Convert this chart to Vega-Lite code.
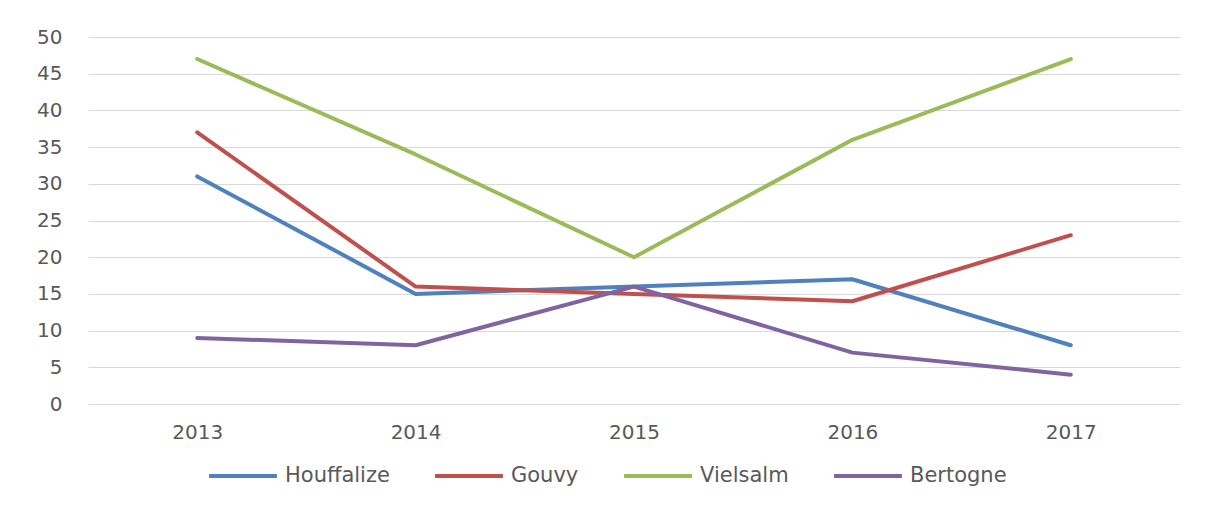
{
  "$schema": "https://vega.github.io/schema/vega-lite/v6.json",
  "width": 1092,
  "height": 367,
  "autosize": {"type": "none"},
  "padding": {"left": 88, "top": 37, "right": 25, "bottom": 103},
  "background": "white",
  "config": {
    "view": {"stroke": null},
    "font": "DejaVu Sans"
  },
  "data": {
    "values": [
      {"annee": "2013", "commune": "Houffalize", "valeur": 31},
      {"annee": "2014", "commune": "Houffalize", "valeur": 15},
      {"annee": "2015", "commune": "Houffalize", "valeur": 16},
      {"annee": "2016", "commune": "Houffalize", "valeur": 17},
      {"annee": "2017", "commune": "Houffalize", "valeur": 8},
      {"annee": "2013", "commune": "Gouvy", "valeur": 37},
      {"annee": "2014", "commune": "Gouvy", "valeur": 16},
      {"annee": "2015", "commune": "Gouvy", "valeur": 15},
      {"annee": "2016", "commune": "Gouvy", "valeur": 14},
      {"annee": "2017", "commune": "Gouvy", "valeur": 23},
      {"annee": "2013", "commune": "Vielsalm", "valeur": 47},
      {"annee": "2014", "commune": "Vielsalm", "valeur": 34},
      {"annee": "2015", "commune": "Vielsalm", "valeur": 20},
      {"annee": "2016", "commune": "Vielsalm", "valeur": 36},
      {"annee": "2017", "commune": "Vielsalm", "valeur": 47},
      {"annee": "2013", "commune": "Bertogne", "valeur": 9},
      {"annee": "2014", "commune": "Bertogne", "valeur": 8},
      {"annee": "2015", "commune": "Bertogne", "valeur": 16},
      {"annee": "2016", "commune": "Bertogne", "valeur": 7},
      {"annee": "2017", "commune": "Bertogne", "valeur": 4}
    ]
  },
  "mark": {"type": "line", "strokeWidth": 4, "strokeCap": "round", "strokeJoin": "round"},
  "encoding": {
    "x": {
      "field": "annee",
      "type": "ordinal",
      "scale": {"type": "point", "padding": 0.5},
      "axis": {
        "title": null,
        "labelAngle": 0,
        "domain": false,
        "ticks": false,
        "grid": false,
        "labelFontSize": 20,
        "labelColor": "#595959",
        "labelPadding": 18
      }
    },
    "y": {
      "field": "valeur",
      "type": "quantitative",
      "scale": {"domain": [0, 50]},
      "axis": {
        "title": null,
        "values": [0, 5, 10, 15, 20, 25, 30, 35, 40, 45, 50],
        "domain": false,
        "ticks": false,
        "gridColor": "#d9d9d9",
        "gridWidth": 1,
        "labelFontSize": 20,
        "labelColor": "#595959",
        "labelPadding": 26
      }
    },
    "color": {
      "field": "commune",
      "type": "nominal",
      "sort": ["Houffalize", "Gouvy", "Vielsalm", "Bertogne"],
      "scale": {
        "domain": ["Houffalize", "Gouvy", "Vielsalm", "Bertogne"],
        "range": ["#4f81bd", "#c0504d", "#9bbb59", "#8064a2"]
      },
      "legend": {
        "title": null,
        "orient": "none",
        "legendX": 119,
        "legendY": 403,
        "direction": "horizontal",
        "symbolType": "stroke",
        "symbolSize": 4600,
        "symbolStrokeWidth": 4,
        "labelFontSize": 21,
        "labelColor": "#595959",
        "labelOffset": 6,
        "columnPadding": 37
      }
    }
  }
}
